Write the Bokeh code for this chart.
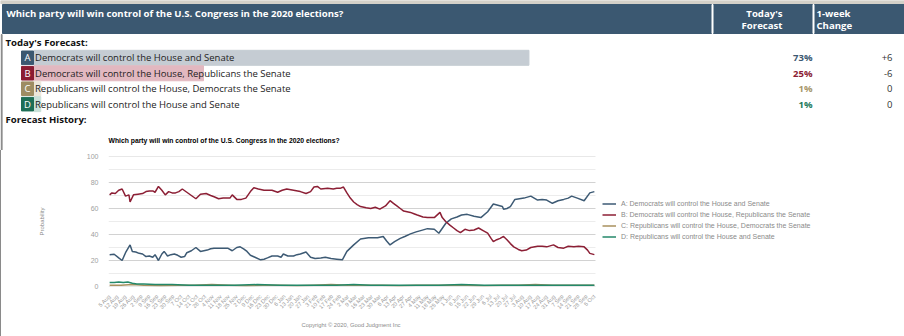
import numpy as np
from bokeh.plotting import figure
from bokeh.models import Range1d, FixedTicker, Legend, LegendItem, Title
from bokeh.core.properties import value
from bokeh.embed import file_html
from bokeh.resources import INLINE

# ---------------- data ----------------
question = "Which party will win control of the U.S. Congress in the 2020 elections?"
letters = ["A", "B", "C", "D"]
options = [
    "Democrats will control the House and Senate",
    "Democrats will control the House, Republicans the Senate",
    "Republicans will control the House, Democrats the Senate",
    "Republicans will control the House and Senate",
]
forecast = [73, 25, 1, 1]
week_change = ["+6", "-6", "0", "0"]
legend_labels = [
    "A: Democrats will control the House and Senate",
    "B: Democrats will control the House, Republicans the Senate",
    "C: Republicans will control the House, Democrats the Senate",
    "D: Republicans will control the House and Senate",
]
tick_labels = [
    "5 Aug", "12 Aug", "19 Aug", "26 Aug",
    "2 Sep", "9 Sep", "16 Sep", "23 Sep", "30 Sep",
    "7 Oct", "14 Oct", "21 Oct", "28 Oct",
    "4 Nov", "11 Nov", "18 Nov", "25 Nov",
    "2 Dec", "9 Dec", "16 Dec", "23 Dec", "30 Dec",
    "6 Jan", "13 Jan", "20 Jan", "27 Jan",
    "3 Feb", "10 Feb", "17 Feb", "24 Feb",
    "2 Mar", "9 Mar", "16 Mar", "23 Mar", "30 Mar",
    "6 Apr", "13 Apr", "20 Apr", "27 Apr",
    "4 May", "11 May", "18 May", "25 May",
    "1 Jun", "8 Jun", "15 Jun", "22 Jun", "29 Jun",
    "6 Jul", "13 Jul", "20 Jul", "27 Jul",
    "3 Aug", "10 Aug", "17 Aug", "24 Aug", "31 Aug",
    "7 Sep", "14 Sep", "21 Sep", "28 Sep",
    "5 Oct",
]
y_major = [0, 20, 40, 60, 80, 100]
y_minor = [10, 30, 50, 70, 90]
copyright_text = "Copyright \u00a9 2020, Good Judgment Inc"

# days since 5 Aug 2019, probability (%)
a_day = [0, 4, 8, 11, 14, 18, 20, 23, 26, 29, 32, 35, 38, 40, 43, 46, 48, 51, 54, 57,
         60, 63, 66, 68, 72, 76, 80, 83, 86, 89, 92, 96, 100, 104, 108, 112, 115, 118, 121, 124,
         128, 133, 136, 139, 143, 148, 151, 153, 157, 162, 165, 168, 173, 177, 181, 186, 190, 195, 200, 205,
         209, 215, 221, 228, 236, 241, 244, 247, 251, 256, 260, 265, 270, 274, 280, 286, 290, 296, 301, 306,
         310, 315, 321, 327, 333, 338, 342, 346, 347, 350, 353, 357, 361, 365, 371, 374, 377, 381, 385, 390,
         395, 400, 404, 407, 412, 418, 423, 427]
a_val = [24.5, 24.8, 22, 20, 26, 32, 27, 26.5, 25.5, 25, 23, 23.5, 22.5, 24.5, 20, 25, 27, 23.5, 24.5, 25,
         24, 22.5, 23, 26, 27.5, 30, 27, 27.5, 28, 29, 29.5, 29.5, 29.5, 29.5, 27.5, 30, 30.5, 29, 27, 24,
         22.5, 20.5, 21, 22, 23.5, 23.5, 22.5, 25, 23.5, 23.5, 24.5, 25, 26.5, 22.5, 21.5, 22, 22.5, 21.5, 21, 20.5,
         27, 32, 36.5, 37.5, 37.5, 38.5, 35, 32, 34.5, 37, 38.5, 40.5, 42, 43, 44.5, 44, 41, 48.5, 52, 53.5,
         55, 55.5, 54, 53, 57.5, 63.5, 62.5, 61.5, 59.5, 60, 61.5, 67, 67.5, 68, 69.5, 68, 66.5, 67, 66.5, 64,
         66, 67, 68, 69.5, 68, 66, 72, 73]

b_day = [0, 2, 5, 8, 11, 14, 17, 18, 21, 25, 29, 32, 35, 38, 40, 43, 46, 49, 52, 55,
         58, 61, 64, 68, 72, 76, 80, 85, 89, 92, 96, 100, 106, 108, 112, 116, 120, 124, 127, 131,
         136, 143, 148, 152, 156, 162, 168, 173, 177, 180, 183, 186, 192, 197, 200, 203, 206, 209, 212, 215,
         218, 221, 226, 230, 234, 238, 243, 247, 250, 253, 256, 259, 265, 268, 271, 276, 280, 286, 291, 293,
         296, 300, 303, 306, 309, 313, 317, 321, 325, 329, 333, 336, 338, 341, 344, 347, 350, 353, 356, 360,
         363, 367, 371, 377, 381, 385, 391, 395, 400, 404, 409, 413, 418, 421, 423, 427]
b_val = [70.5, 72, 71.5, 74, 75, 69.5, 70.5, 65, 70.5, 71, 71.5, 73, 73.5, 73.5, 72.5, 77, 74, 70.5, 73, 72,
         72, 73, 75, 72.5, 70, 67.5, 71, 71.5, 70, 69, 67.5, 68, 68, 70.5, 67, 67, 68, 73, 76, 75,
         74, 74, 72.5, 74, 75, 74, 73, 71.5, 73, 76.5, 77, 75, 75.5, 75, 75.5, 75.5, 76.5, 72, 68, 65,
         63, 61.5, 60.5, 60, 61, 59.5, 62, 66, 64, 62, 60, 58, 57, 56, 55, 53.5, 53, 53, 57, 53,
         50, 47, 45, 43, 41.5, 44, 43, 43.5, 45, 43, 41, 37, 34.5, 36, 37, 38.5, 36, 33, 30.5, 28.5,
         27.5, 28, 30, 31, 31, 30.5, 32, 30, 29.5, 31, 30.5, 31, 30.5, 28, 25.5, 24.5]

c_day = [0, 10, 20, 30, 45, 60, 75, 90, 105, 120, 135, 150, 165, 180, 195, 210,
         225, 240, 255, 270, 285, 300, 315, 330, 345, 360, 375, 390, 405, 420, 427]
c_val = [1, 1, 1.5, 1, 0.5, 1, 1, 1.5, 1, 0.5, 1, 1, 0.5, 1, 1.5, 1,
         1, 1, 0.5, 1, 1, 1, 1, 0.5, 1, 1, 1.5, 1, 1, 1, 1]

d_day = [0, 4, 8, 12, 16, 20, 24, 30, 40, 55, 70, 90, 110, 130, 150, 170,
         185, 200, 215, 230, 250, 270, 290, 310, 330, 350, 370, 390, 410, 427]
d_val = [3, 3, 3.5, 3, 3.5, 2.5, 2, 2, 1.5, 1.5, 1, 1, 1, 1.5, 1, 1,
         1, 1, 1.5, 1, 1, 1, 1, 1.5, 1, 1, 1, 1, 1, 1]

# ---------------- styles ----------------
HEAD = "#3b5871"
opt_colors = ["#3b5871", "#8b1c33", "#9e8d63", "#1d6e55"]
bar_colors = ["#c5ccd3", "#e2b8c0", "#ece6d9", "#c9e0d8"]
pct_colors = ["#3b5871", "#8b1c33", "#a8976a", "#1d7a5c"]
line_colors = ["#3d5a74", "#8c1f35", "#a8905e", "#24896a"]
OPEN = value("Open Sans")
BORDER = "#8a8a8a"
BOLD_SIZE = "9.6px"
ROW_SIZE = "9.5px"

# ---------------- top (table) ----------------
top = figure(width=904, height=150, x_range=Range1d(0, 904), y_range=Range1d(150, 0),
             toolbar_location=None, output_backend="svg", min_border=0,
             x_axis_location=None, y_axis_location=None)
top.grid.visible = False
top.outline_line_color = None
top.extra_x_ranges = {"pct": Range1d(start=-33.5 / 6.78, end=(904 - 33.5) / 6.78)}

top.quad(left=[0], right=[904], top=[0], bottom=[3], color="#d4d0c8")
top.quad(left=[0.6], right=[1.6], top=[34], bottom=[150], color=BORDER)
top.quad(left=[2], right=[904], top=[4], bottom=[33], color=HEAD)
top.quad(left=[711.5, 812.5], right=[712.5, 813.5], top=[4, 4], bottom=[33, 33], color="white")

top.text(x=[6], y=[13], text=[question], text_font=OPEN, text_font_size=BOLD_SIZE,
         text_font_style="bold", text_color="white", text_baseline="middle", text_align="left")
top.text(x=[782, 782], y=[13, 25], text=["Today's", "Forecast"], text_font=OPEN,
         text_font_size=BOLD_SIZE, text_font_style="bold", text_color="white",
         text_baseline="middle", text_align="right")
top.text(x=[816, 816], y=[13, 25], text=["1-week", "Change"], text_font=OPEN,
         text_font_size=BOLD_SIZE, text_font_style="bold", text_color="white",
         text_baseline="middle", text_align="left")
top.text(x=[5, 5], y=[42, 119], text=["Today's Forecast:", "Forecast History:"], text_font=OPEN,
         text_font_size=BOLD_SIZE, text_font_style="bold", text_color="#111111",
         text_baseline="middle", text_align="left")

row_y = [57.3 + 15.45 * i for i in range(len(options))]
top.quad(left=[0] * 4, right=forecast, top=[y - 7.5 for y in row_y], bottom=[y + 7.5 for y in row_y],
         color=bar_colors, x_range_name="pct")
top.quad(left=[21] * 4, right=[33] * 4, top=[y - 6.8 for y in row_y], bottom=[y + 6.8 for y in row_y],
         color=opt_colors)
top.text(x=[27] * 4, y=row_y, text=letters, text_font=OPEN, text_font_size=ROW_SIZE,
         text_color="white", text_baseline="middle", text_align="center")
top.text(x=[34.5] * 4, y=row_y, text=options, text_font=OPEN, text_font_size=ROW_SIZE,
         text_color="#222222", text_baseline="middle", text_align="left")
top.text(x=[812] * 4, y=row_y, text=[f"{v}%" for v in forecast], text_font=OPEN,
         text_font_size=ROW_SIZE, text_font_style="bold", text_color=pct_colors,
         text_baseline="middle", text_align="right")
top.text(x=[892] * 4, y=row_y, text=week_change, text_font=OPEN, text_font_size=ROW_SIZE,
         text_color="#333333", text_baseline="middle", text_align="right")
top.text(x=[108], y=[140], text=[question], text_font=value("Liberation Sans"),
         text_font_size="6.8px", text_font_style="bold", text_color="#000000",
         text_baseline="middle", text_align="left")

# ---------------- bottom (chart) ----------------
# frame spans from x=108 to the right edge; the time axis occupies its first 487 px
X0, X1 = -1, 428
px_per_day = 487 / (X1 - X0)
x_end = X0 + 796 / px_per_day
p = figure(width=903, height=186, x_range=Range1d(X0, x_end), y_range=Range1d(0, 100),
           toolbar_location=None, output_backend="svg",
           min_border_left=107, min_border_right=0, min_border_top=6, min_border_bottom=50,
           styles={"border-left": "1px solid " + BORDER})
p.outline_line_color = None

# horizontal grid lines limited to the time span
p.xgrid.grid_line_color = None
p.ygrid.grid_line_color = None
p.segment(x0=[X0] * len(y_minor), x1=[X1] * len(y_minor), y0=y_minor, y1=y_minor,
          line_color="#ececec", line_width=1)
p.segment(x0=[X0] * len(y_major), x1=[X1] * len(y_major), y0=y_major, y1=y_major,
          line_color="#d2d2d2", line_width=1)

renderers = []
for days, vals, col in zip([a_day, b_day, c_day, d_day], [a_val, b_val, c_val, d_val], line_colors):
    renderers.append(p.line(days, vals, line_color=col, line_width=1.5))

tick_pos = [7 * i for i in range(len(tick_labels))]
p.xaxis.ticker = FixedTicker(ticks=tick_pos)
p.xaxis.major_label_overrides = {t: lab for t, lab in zip(tick_pos, tick_labels)}
p.xaxis.major_label_orientation = np.pi / 4
p.xaxis.major_label_text_font_size = "5.6px"
p.xaxis.major_label_text_color = "#9a9a9a"
p.xaxis.major_label_text_font = "Liberation Sans"
p.xaxis.major_label_standoff = 3
p.xaxis.axis_line_color = None
p.xaxis.major_tick_line_color = None
p.xaxis.minor_tick_line_color = None

p.yaxis.ticker = FixedTicker(ticks=y_major)
p.yaxis.major_label_text_font_size = "7px"
p.yaxis.major_label_text_color = "#a0a0a0"
p.yaxis.major_label_text_font = "Liberation Sans"
p.yaxis.major_label_standoff = 4
p.yaxis.axis_line_color = None
p.yaxis.major_tick_line_color = None
p.yaxis.minor_tick_line_color = None
p.yaxis.axis_label = "Probability"
p.yaxis.axis_label_text_font = "Liberation Sans"
p.yaxis.axis_label_text_font_size = "6px"
p.yaxis.axis_label_text_font_style = "normal"
p.yaxis.axis_label_text_color = "#8a8a8a"
p.yaxis.axis_label_standoff = 39

cr = Title(text=copyright_text, align="left", offset=193, standoff=8,
           text_font="Liberation Sans", text_font_size="5.8px", text_font_style="normal",
           text_color="#8a8a8a")
p.add_layout(cr, "below")

legend = Legend(items=[LegendItem(label=l, renderers=[r]) for l, r in zip(legend_labels, renderers)],
                location=(494, 44), orientation="vertical")
legend.border_line_color = None
legend.background_fill_alpha = 0
legend.label_text_font = "Liberation Sans"
legend.label_text_font_size = "7px"
legend.label_text_color = "#8a8a8a"
legend.glyph_width = 14
legend.glyph_height = 11
legend.label_height = 11
legend.spacing = 0
legend.padding = 0
legend.margin = 0
legend.label_standoff = 5
p.add_layout(legend)

open("out.html", "w").write(file_html([top, p], INLINE))
